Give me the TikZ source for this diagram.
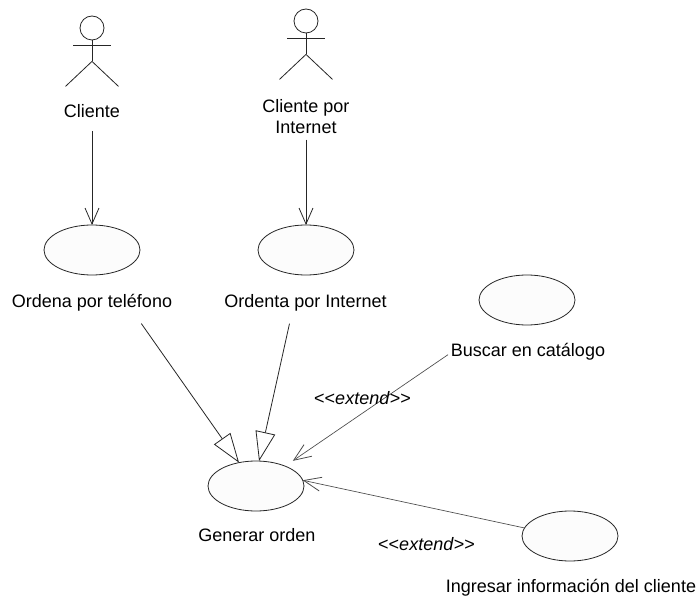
\documentclass[tikz,border=0pt]{standalone}
\usepackage{fontspec}
\setmainfont{Liberation Sans}
\usetikzlibrary{arrows.meta,shapes.geometric}
\def\linecolor{black!85}
\definecolor{casefill}{HTML}{FCFCFC}
\newcommand{\actorfig}[3]{
  \node[actorhead](#1) at(#2,#3){};
  \draw[stick] (#1.south) -- ++(0,21) coordinate(#1hip);
  \draw[stick] ([shift={(-19,5)}]#1.south) -- ++(38,0);
  \draw[stick] (#1hip) -- ++(-26.5,25);
  \draw[stick] (#1hip) -- ++(26.5,25);
}
\begin{document}
\begin{tikzpicture}[x=0.75pt,y=-0.75pt,
    actorhead/.style={circle,draw=\linecolor,line width=.6pt,minimum size=18pt,inner sep=0pt},
    stick/.style={draw=\linecolor,line width=.6pt},
    usecase/.style={ellipse,draw=\linecolor,fill=casefill,line width=.6pt,minimum width=72pt,minimum height=37.5pt,inner sep=0pt,outer sep=0pt},
    caption/.style={font=\fontsize{13.5}{16}\selectfont,align=center,inner sep=0pt,text height=9.5pt,text depth=3pt},
    stereo/.style={font=\fontsize{13.5}{16}\selectfont,inner sep=0pt},
    assoc/.style={draw=\linecolor,line width=.6pt,-{Straight Barb[length=12pt,width=10.5pt,line width=.6pt]}},
    general/.style={draw=\linecolor,line width=.6pt,-{Triangle[open,fill=white,length=22pt,width=15pt,line width=.6pt]}},
    extendline/.style={draw=black!70,line width=.5pt,-{Straight Barb[length=13pt,width=10.5pt,line width=.6pt]}},
  ]
  \useasboundingbox (0,0) rectangle (700,599);

  % actors
  \actorfig{cliente}{92}{28}
  \actorfig{internet}{306}{21}
  \node[caption](lblCliente) at(92,113){Cliente};
  \node[caption,anchor=north](lblInternet) at(306,121){Cliente por\\Internet};

  % use cases
  \node[usecase](ordena) at(92,250){};
  \node[usecase](ordenta) at(306,250){};
  \node[usecase](buscar) at(527,300){};
  \node[usecase](generar) at(256,486){};
  \node[usecase](ingresar) at(570,536){};
  \node[caption](lblOrdena) at(92,303){Ordena por teléfono};
  \node[caption](lblOrdenta) at(305.5,303){Ordenta por Internet};
  \node[caption](lblBuscar) at(528,352){Buscar en catálogo};
  \node[caption](lblGenerar) at(257,537){Generar orden};
  \node[caption](lblIngresar) at(571,588){Ingresar información del cliente};

  % connectors
  \draw[assoc,shorten <=7pt] (lblCliente.south) -- (ordena.north);
  \draw[assoc,shorten <=1pt] (lblInternet.south) -- (ordenta.north);
  \draw[general] ([xshift=37pt,yshift=-9pt]lblOrdena.south) -- (generar.126);
  \draw[general] ([xshift=-12pt,yshift=-9pt]lblOrdenta.south) -- (generar.83);
  \draw[extendline,shorten >=7pt] ([xshift=-2pt,yshift=-2pt]lblBuscar.west) -- (generar);
  \draw[extendline] (ingresar.170) -- (generar.7);
  \node[stereo](extendA) at(362.5,398){<{}<\textit{extend}>{}>};
  \node[stereo](extendB) at(426.5,544){<{}<\textit{extend}>{}>};
\end{tikzpicture}
\end{document}
